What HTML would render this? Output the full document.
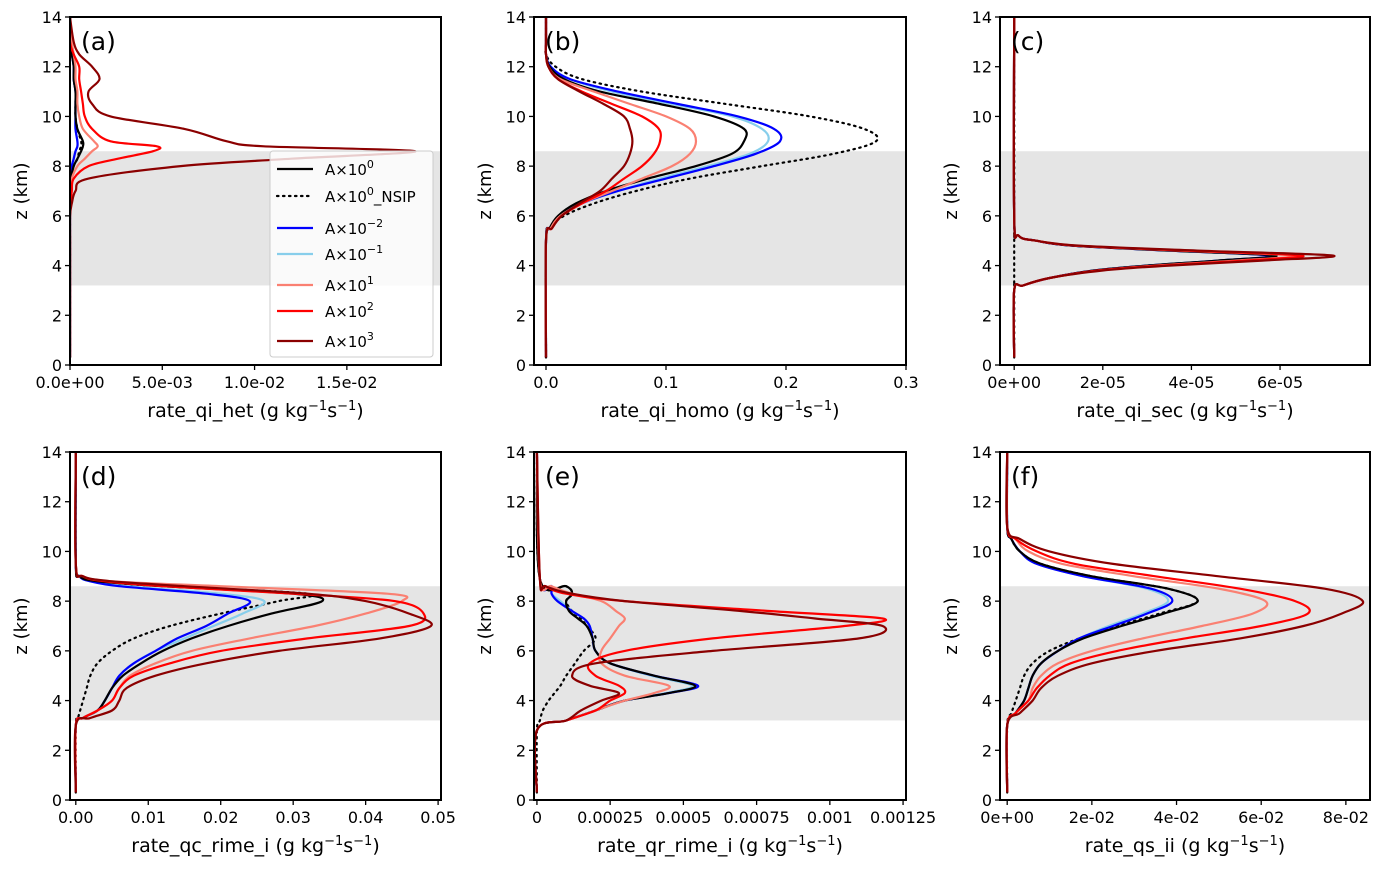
<!DOCTYPE html>
<html><head><meta charset="utf-8">
<style>
html,body{margin:0;padding:0;background:#fff;}
svg{display:block;font-family:"DejaVu Sans","Liberation Sans",sans-serif;}
</style></head>
<body>
<svg id="fig" width="1385" height="869" viewBox="0 0 1385 869"></svg>
<script>
const colors = {black:'#000000',nsip:'#000000',blue:'#0000ff',light:'#87ceeb',salmon:'#fa8072',red:'#ff0000',darkred:'#8b0000'};
const seriesOrder = ['nsip','light','blue','black','salmon','red','darkred'];

// Panel (a)
const zA = [0.3,2,3,4,5,6,6.5,7,7.5,8,8.3,8.6,8.8,9,9.5,10,10.5,11,11.5,12,12.5,13,14];
const aBlack  = [0,0,0,0,0,0,0,0,0.00005,0.0002,0.0004,0.0006,0.0007,0.0007,0.0004,0.0003,0.0003,0.0003,0.0002,0.0002,0.0001,0,0];
const aNsip   = [0,0,0,0,0,0,0,0,0.00005,0.0002,0.0004,0.0005,0.0006,0.0006,0.0004,0.0003,0.0003,0.0003,0.0002,0.0002,0.0001,0,0];
const aBlue   = [0,0,0,0,0,0,0,0,0.00003,0.0001,0.0002,0.0003,0.0004,0.0004,0.0003,0.0003,0.0003,0.0003,0.0002,0.0002,0.0001,0,0];
const aLight  = [0,0,0,0,0,0,0,0,0.00003,0.0001,0.0002,0.0003,0.0004,0.0004,0.0003,0.0003,0.0003,0.0003,0.0002,0.0002,0.0001,0,0];
const aSalmon = [0,0,0,0,0,0,0,0.00002,0.0001,0.0004,0.0008,0.0012,0.0015,0.0013,0.0007,0.0005,0.0004,0.0004,0.0003,0.0003,0.0002,0.0001,0];
const aRed    = [0,0,0,0,0,0,0.00003,0.0001,0.0002,0.001,0.0026,0.0045,0.0047,0.0022,0.0012,0.0008,0.0007,0.0006,0.0005,0.0005,0.0002,0,0];
const aDark   = [0,0,0,0,0,0,0.0001,0.0003,0.001,0.006,0.012,0.0187,0.0105,0.0085,0.0062,0.0022,0.0012,0.001,0.0016,0.0012,0.0005,0.0002,0];

// Panel (b)
const zB = [0.3,5,5.5,6,6.5,7,7.5,8,8.5,9,9.5,10,10.5,11,11.5,12,12.5,13,14];
const bNsip   = [0,0,0.003,0.015,0.04,0.075,0.12,0.18,0.24,0.275,0.265,0.22,0.15,0.08,0.03,0.008,0,0,0];
const bBlue   = [0,0,0.003,0.012,0.03,0.06,0.1,0.14,0.175,0.195,0.19,0.16,0.11,0.06,0.02,0.004,0,0,0];
const bLight  = [0,0,0.003,0.012,0.03,0.06,0.095,0.135,0.17,0.185,0.18,0.155,0.105,0.055,0.02,0.004,0,0,0];
const bBlack  = [0,0,0.003,0.01,0.025,0.05,0.085,0.125,0.155,0.165,0.165,0.14,0.095,0.045,0.015,0.003,0,0,0];
const bSalmon = [0,0,0.004,0.012,0.03,0.055,0.08,0.105,0.12,0.125,0.12,0.1,0.07,0.04,0.012,0.002,0,0,0];
const bRed    = [0,0,0.005,0.013,0.03,0.05,0.065,0.08,0.09,0.095,0.094,0.08,0.055,0.03,0.01,0.002,0,0,0];
const bDark   = [0,0,0.005,0.013,0.028,0.045,0.055,0.065,0.07,0.072,0.07,0.065,0.048,0.028,0.01,0.002,0,0,0];

// Panel (c)
const zC = [0.3,3,3.2,3.5,3.8,4,4.2,4.4,4.6,4.8,5,5.2,6,14];
const cNsip   = [0,0,0,0,0,0,0,0,0,0,0,0,0,0];
const cBlue   = [0,0,0.2e-5,0.8e-5,1.8e-5,3e-5,4.6e-5,5.8e-5,3.5e-5,1.3e-5,0.5e-5,0.1e-5,0,0];
const cLight  = [0,0,0.2e-5,0.8e-5,1.8e-5,3e-5,4.6e-5,5.9e-5,3.5e-5,1.3e-5,0.5e-5,0.1e-5,0,0];
const cBlack  = [0,0,0.2e-5,0.8e-5,1.8e-5,3e-5,4.6e-5,5.9e-5,3.5e-5,1.3e-5,0.5e-5,0.1e-5,0,0];
const cSalmon = [0,0,0.2e-5,0.8e-5,1.9e-5,3.2e-5,5e-5,6.3e-5,3.8e-5,1.4e-5,0.5e-5,0.1e-5,0,0];
const cRed    = [0,0,0.2e-5,0.8e-5,1.9e-5,3.3e-5,5.2e-5,6.5e-5,3.9e-5,1.4e-5,0.5e-5,0.1e-5,0,0];
const cDark   = [0,0,0.2e-5,0.8e-5,2e-5,3.5e-5,5.6e-5,7.2e-5,4.2e-5,1.5e-5,0.5e-5,0.1e-5,0,0];

// Panel (d)
const zD = [0.3,3,3.3,3.6,4,4.5,5,5.5,6,6.5,7,7.5,8,8.3,8.6,8.8,9,9.5,14];
const dNsip   = [0,0,0.0003,0.0006,0.001,0.0015,0.002,0.003,0.005,0.008,0.013,0.02,0.028,0.032,0.012,0.003,0.0005,0,0];
const dBlue   = [0,0,0.001,0.003,0.004,0.005,0.006,0.008,0.011,0.014,0.018,0.021,0.024,0.018,0.006,0.002,0.0005,0,0];
const dLight  = [0,0,0.001,0.003,0.004,0.005,0.006,0.008,0.011,0.015,0.019,0.023,0.026,0.02,0.007,0.002,0.0005,0,0];
const dBlack  = [0,0,0.001,0.003,0.004,0.005,0.0065,0.009,0.012,0.016,0.021,0.027,0.034,0.03,0.012,0.003,0.0005,0,0];
const dSalmon = [0,0,0.001,0.003,0.005,0.006,0.0075,0.011,0.016,0.024,0.033,0.04,0.045,0.043,0.02,0.005,0.001,0,0];
const dRed    = [0,0,0.001,0.003,0.005,0.006,0.008,0.013,0.02,0.032,0.046,0.048,0.044,0.03,0.012,0.004,0.001,0,0];
const dDark   = [0,0,0.002,0.005,0.006,0.007,0.011,0.018,0.028,0.042,0.049,0.046,0.04,0.032,0.015,0.005,0.001,0,0];

// Panel (e)
const zE = [0.3,2.8,3.2,3.6,4,4.3,4.6,5,5.5,6,6.5,7,7.3,7.6,8,8.3,8.6,8.9,14];
const eNsip   = [0,0,0.00001,0.00002,0.00004,0.00006,0.00008,0.0001,0.00013,0.00016,0.0002,0.00017,0.00015,0.00012,0.0001,0.00012,0.0001,0.00001,0];
const eBlue   = [0,0,0.0001,0.0002,0.0003,0.00045,0.00055,0.0004,0.00025,0.0002,0.00019,0.00018,0.00016,0.00012,0.00007,0.00005,0.00005,0.00001,0];
const eLight  = [0,0,0.0001,0.0002,0.0003,0.00044,0.00053,0.00039,0.00025,0.0002,0.00019,0.00018,0.00016,0.00012,0.00008,0.00005,0.00005,0.00001,0];
const eBlack  = [0,0,0.0001,0.0002,0.0003,0.00045,0.00054,0.0004,0.00025,0.0002,0.00019,0.00017,0.00014,0.00011,0.0001,0.00012,0.0001,0.00001,0];
const eSalmon = [0,0,0.0001,0.0002,0.0003,0.0004,0.00045,0.0003,0.00022,0.00022,0.00025,0.00028,0.0003,0.00027,0.00022,0.00012,0.00005,0.00001,0];
const eRed    = [0,0,0.0001,0.0002,0.00025,0.0003,0.00028,0.0002,0.00018,0.0003,0.0006,0.00105,0.00118,0.0008,0.0003,0.0001,0.00003,0.00001,0];
const eDark   = [0,0,0.0001,0.00015,0.00022,0.00028,0.00018,0.00012,0.0002,0.0006,0.0011,0.00118,0.00095,0.0007,0.0003,0.00012,0.00003,0.00001,0];

// Panel (f)
const zF = [0.3,3,3.5,4,4.5,5,5.5,6,6.5,7,7.5,8,8.5,9,9.5,10,10.5,11,14];
const fNsip   = [0,0,0.001,0.002,0.003,0.004,0.006,0.01,0.017,0.026,0.036,0.045,0.038,0.02,0.008,0.003,0.001,0,0];
const fBlue   = [0,0,0.002,0.004,0.005,0.006,0.008,0.012,0.017,0.025,0.033,0.039,0.034,0.018,0.007,0.003,0.001,0,0];
const fLight  = [0,0,0.002,0.004,0.005,0.006,0.008,0.012,0.017,0.024,0.032,0.038,0.033,0.018,0.007,0.003,0.001,0,0];
const fBlack  = [0,0,0.002,0.004,0.005,0.006,0.008,0.012,0.018,0.027,0.037,0.045,0.038,0.02,0.008,0.003,0.001,0,0];
const fSalmon = [0,0,0.002,0.005,0.006,0.008,0.012,0.02,0.032,0.046,0.058,0.061,0.05,0.03,0.013,0.005,0.002,0,0];
const fRed    = [0,0,0.002,0.005,0.007,0.01,0.015,0.026,0.042,0.06,0.071,0.068,0.055,0.035,0.016,0.007,0.002,0,0];
const fDark   = [0,0,0.003,0.006,0.008,0.012,0.02,0.035,0.055,0.07,0.079,0.084,0.075,0.05,0.025,0.01,0.003,0,0];

const yTicks = [0,2,4,6,8,10,12,14];
const aTicks = [0,0.005,0.01,0.015], aLabels = ['0.0e+00','5.0e-03','1.0e-02','1.5e-02'];
const bTicks = [0,0.1,0.2,0.3], bLabels = ['0.0','0.1','0.2','0.3'];
const cTicks = [0,2e-5,4e-5,6e-5], cLabels = ['0e+00','2e-05','4e-05','6e-05'];
const dTicks = [0,0.01,0.02,0.03,0.04,0.05], dLabels = ['0.00','0.01','0.02','0.03','0.04','0.05'];
const eTicks = [0,0.00025,0.0005,0.00075,0.001,0.00125], eLabels = ['0','0.00025','0.0005','0.00075','0.001','0.00125'];
const fTicks = [0,0.02,0.04,0.06,0.08], fLabels = ['0e+00','2e-02','4e-02','6e-02','8e-02'];

const panels = [
 {id:'a',x0:70,x1:441,y0:17,y1:365,xmin:0,xmax:0.0201,z:zA,s:{nsip:aNsip,light:aLight,blue:aBlue,black:aBlack,salmon:aSalmon,red:aRed,darkred:aDark},t:aTicks,l:aLabels,lab:'rate_qi_het'},
 {id:'b',x0:534,x1:906,y0:17,y1:365,xmin:-0.01,xmax:0.3,z:zB,s:{nsip:bNsip,light:bLight,blue:bBlue,black:bBlack,salmon:bSalmon,red:bRed,darkred:bDark},t:bTicks,l:bLabels,lab:'rate_qi_homo'},
 {id:'c',x0:1000,x1:1370,y0:17,y1:365,xmin:-3.2e-6,xmax:8.03e-5,z:zC,s:{nsip:cNsip,light:cLight,blue:cBlue,black:cBlack,salmon:cSalmon,red:cRed,darkred:cDark},t:cTicks,l:cLabels,lab:'rate_qi_sec'},
 {id:'d',x0:70,x1:441,y0:452,y1:800,xmin:-0.0008,xmax:0.0504,z:zD,s:{nsip:dNsip,light:dLight,blue:dBlue,black:dBlack,salmon:dSalmon,red:dRed,darkred:dDark},t:dTicks,l:dLabels,lab:'rate_qc_rime_i'},
 {id:'e',x0:534,x1:906,y0:452,y1:800,xmin:-1e-5,xmax:0.00126,z:zE,s:{nsip:eNsip,light:eLight,blue:eBlue,black:eBlack,salmon:eSalmon,red:eRed,darkred:eDark},t:eTicks,l:eLabels,lab:'rate_qr_rime_i'},
 {id:'f',x0:1000,x1:1370,y0:452,y1:800,xmin:-0.0017,xmax:0.0857,z:zF,s:{nsip:fNsip,light:fLight,blue:fBlue,black:fBlack,salmon:fSalmon,red:fRed,darkred:fDark},t:fTicks,l:fLabels,lab:'rate_qs_ii'}
];
const NS='http://www.w3.org/2000/svg';
const svg=document.getElementById('fig');
function mk(tag,attrs,parent){const e=document.createElementNS(NS,tag);for(const k in attrs)e.setAttribute(k,attrs[k]);(parent||svg).appendChild(e);return e;}
function smooth(pts){let d='M'+pts[0][0].toFixed(1)+','+pts[0][1].toFixed(1);
 for(let i=0;i<pts.length-1;i++){const p0=pts[Math.max(0,i-1)],p1=pts[i],p2=pts[i+1],p3=pts[Math.min(pts.length-1,i+2)];
  const c1=[p1[0]+(p2[0]-p0[0])/6,p1[1]+(p2[1]-p0[1])/6],c2=[p2[0]-(p3[0]-p1[0])/6,p2[1]-(p3[1]-p1[1])/6];
  d+=' C'+c1[0].toFixed(1)+','+c1[1].toFixed(1)+' '+c2[0].toFixed(1)+','+c2[1].toFixed(1)+' '+p2[0].toFixed(1)+','+p2[1].toFixed(1);}
 return d;}
panels.forEach(p=>{
 const g=mk('g',{});
 
 
 const X=v=>p.x0+(v-p.xmin)/(p.xmax-p.xmin)*(p.x1-p.x0);
 const Y=z=>p.y1-z/14*(p.y1-p.y0);
 const clipId='clip'+p.id;
 const cp=mk('clipPath',{id:clipId},g);mk('rect',{x:p.x0,y:p.y0,width:p.x1-p.x0,height:p.y1-p.y0},cp);
 const sh=mk('rect',{x:p.x0,y:Y(8.6),width:p.x1-p.x0,height:Y(3.2)-Y(8.6),fill:'#e5e5e5'},g);
 
 
 const lg=mk('g',{'clip-path':'url(#'+clipId+')'},g);
 seriesOrder.forEach(k=>{
  const pts=p.z.map((z,i)=>[X(p.s[k][i]),Y(z)]);
  const path=mk('path',{d:smooth(pts),fill:'none',stroke:colors[k],'stroke-width':2.2,'stroke-dasharray':k==='nsip'?'1.5,4.5':'none','stroke-linecap':k==='nsip'?'round':'butt'},lg);
  
  
 });
 mk('rect',{x:p.x0,y:p.y0,width:p.x1-p.x0,height:p.y1-p.y0,fill:'none',stroke:'#000','stroke-width':2},g);
 yTicks.forEach(t=>{mk('line',{x1:p.x0-5,x2:p.x0,y1:Y(t),y2:Y(t),stroke:'#000','stroke-width':1.3},g);
  const tx=mk('text',{x:p.x0-8,y:Y(t)+6,'text-anchor':'end','font-size':16},g);tx.textContent=t;
  
  });
 p.t.forEach((t,i)=>{mk('line',{x1:X(t),x2:X(t),y1:p.y1,y2:p.y1+5,stroke:'#000','stroke-width':1.3},g);
  const tx=mk('text',{x:X(t),y:p.y1+23,'text-anchor':'middle','font-size':16},g);tx.textContent=p.l[i];
  
  });
 const xl=mk('text',{x:(p.x0+p.x1)/2,y:p.y1+52,'text-anchor':'middle','font-size':19},g);
 
 
 xl.innerHTML=p.lab+' (g kg<tspan dy="-7" font-size="13">−1</tspan><tspan dy="7">s</tspan><tspan dy="-7" font-size="13">−1</tspan><tspan dy="7">)</tspan>';
 const yl=mk('text',{x:0,y:0,'text-anchor':'middle','font-size':18,transform:'translate('+(p.x0-43)+','+((p.y0+p.y1)/2)+') rotate(-90)'},g);
 yl.textContent='z (km)';
 
 
 const pl=mk('text',{x:p.x0+11,y:p.y0+33,'font-size':25},g);pl.textContent='('+p.id+')';
 
 
});
// legend
const leg=mk('g',{});


mk('rect',{x:270,y:151,width:163,height:206,fill:'#fff','fill-opacity':0.8,stroke:'#ccc','stroke-width':1,rx:3},leg);
const legKeys=['black','nsip','blue','light','salmon','red','darkred'];
const legExp=['0','0','−2','−1','1','2','3'];
const legY=[169,196,228,254,285,311,341];
legKeys.forEach((k,i)=>{
 const e=mk('g',{},leg);
 
 
 mk('line',{x1:277,x2:313,y1:legY[i],y2:legY[i],stroke:colors[k],'stroke-width':2.2,'stroke-dasharray':k==='nsip'?'1.5,4.5':'none','stroke-linecap':k==='nsip'?'round':'butt'},e);
 const t=mk('text',{x:325,y:legY[i]+6,'font-size':15},e);
 t.innerHTML='A×10<tspan dy="-7" font-size="11">'+legExp[i]+'</tspan>'+(k==='nsip'?'<tspan dy="7">_NSIP</tspan>':'');
});
</script>
</body></html>
